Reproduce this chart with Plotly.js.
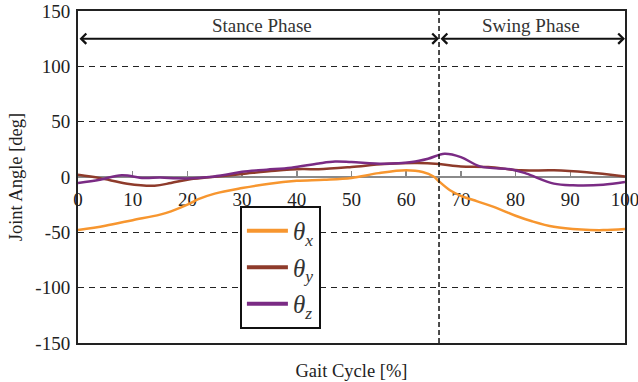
<!DOCTYPE html>
<html>
<head>
<meta charset="utf-8">
<script src="https://cdn.plot.ly/plotly-3.0.1.min.js"></script>
<style>html,body{margin:0;padding:0;background:#fff;}#chart{width:638px;height:382px;}</style>
</head>
<body>
<div id="chart"></div>
<script>
// ---- data ----
const xTheta = [0, 5, 10, 15, 17, 20, 22, 25, 30, 35, 40, 45, 50, 55, 60, 63, 65, 66, 68, 70, 73, 76, 80, 83, 87, 92, 96, 100];
const thetaX = [-48, -44, -39, -34, -31, -25, -20, -15, -10, -6, -3.5, -2.5, -0.8, 3.5, 6, 4.5, 0.5, -4, -12, -17, -22, -27, -35, -40, -45, -47.5, -48, -47];

const xThetaY = [0, 4, 9, 14, 17, 20, 24, 30, 36, 41, 44, 50, 56, 62, 66, 70, 75, 81, 87, 93, 100];
const thetaY = [2, -1, -6, -7.8, -5.4, -2.4, -0.3, 2.7, 5.7, 7.2, 7, 9, 11.7, 12.6, 11.7, 9.6, 9, 6, 6, 4.2, 0.5];

const xThetaZ = [0, 4, 8, 12, 15, 18, 21, 24, 27, 30, 34.5, 39, 44, 47, 50, 56, 61, 64, 67, 70, 73.5, 79.5, 82, 87, 90.5, 96, 100];
const thetaZ = [-5.4, -2.4, 1.5, -0.9, -0.5, -1.2, -1.2, 0, 2.1, 4.8, 6.6, 8.4, 12.3, 14, 13.5, 12, 13.5, 16.5, 21, 18, 9.6, 6.6, 3, -6, -7.5, -7, -4.5];

const seriesNames = ['<i>θ</i><sub><i>x</i></sub>', '<i>θ</i><sub><i>y</i></sub>', '<i>θ</i><sub><i>z</i></sub>'];
const seriesColors = ['#F7962F', '#8E3B2B', '#7A2B84'];

const xTickVals = [0, 10, 20, 30, 40, 50, 60, 70, 80, 90, 100];
const yTickVals = [-150, -100, -50, 0, 50, 100, 150];
const yTickText = ['-150', '-100', '-50', '0', '50', '100', '150'];

const phaseBoundary = 66;
const phaseArrowY = 125;
const phaseLabels = ['Stance Phase', 'Swing Phase'];
const phaseLabelX = [33.6, 82.8];
const phaseLabelY = 137;

// ---- chart ----
const font = 'Liberation Serif, Times New Roman, serif';
const xs = [xTheta, xThetaY, xThetaZ];
const ys = [thetaX, thetaY, thetaZ];
const traces = ys.map((y, i) => ({
  x: xs[i], y: y, type: 'scatter', mode: 'lines',
  name: seriesNames[i], showlegend: false,
  line: {color: seriesColors[i], width: 2.5, shape: 'spline', smoothing: 1},
  xaxis: 'x2', yaxis: 'y'
}));
// legend entries (thicker sample lines, as in the reference legend)
seriesNames.forEach((n, i) => traces.push({
  x: [null], y: [null], type: 'scatter', mode: 'lines', name: n, legendgroup: 'g' + i, showlegend: true,
  line: {color: seriesColors[i], width: 4}, xaxis: 'x2', yaxis: 'y'
}));

const layout = {
  width: 638, height: 382,
  margin: {l: 78, r: 13, t: 11, b: 39},
  paper_bgcolor: '#fff', plot_bgcolor: '#fff',
  font: {family: font, size: 19, color: '#222'},
  showlegend: true,
  legend: {
    x: 0.296, y: 0.413, xanchor: 'left', yanchor: 'top',
    bgcolor: '#fff', bordercolor: '#111', borderwidth: 2,
    font: {family: font, size: 25, color: '#333'},
    tracegroupgap: 1, itemwidth: 41
  },
  xaxis: {
    range: [0, 100], showticklabels: false, ticks: '', showgrid: false, zeroline: false,
    showline: true, mirror: true, linecolor: '#222', linewidth: 2,
    title: {text: 'Gait Cycle [%]', font: {family: font, size: 18.5, color: '#222'}, standoff: 20},
    automargin: false
  },
  xaxis2: {
    overlaying: 'x', anchor: 'free', position: 0.5, side: 'bottom',
    range: [0, 100], tickvals: xTickVals, ticks: 'inside', ticklen: 5, tickcolor: '#888', tickwidth: 1.5,
    showline: true, linecolor: '#8a8a8a', linewidth: 2, showgrid: false, zeroline: false,
    ticklabeloverflow: 'allow', layer: 'below traces', ticklabelstandoff: 5,
    tickfont: {family: font, size: 19, color: '#222'}
  },
  yaxis: {
    range: [-150, 150], tickvals: yTickVals, ticktext: yTickText, ticks: '', ticklabelstandoff: 2,
    showgrid: true, gridcolor: '#222', gridwidth: 1, griddash: '6px,5px',
    zeroline: false, showline: true, mirror: true, linecolor: '#222', linewidth: 2,
    tickfont: {family: font, size: 19, color: '#222'},
    title: {text: 'Joint Angle [deg]', font: {family: font, size: 18.5, color: '#222'}, standoff: 8},
    automargin: false
  },
  shapes: [{
    type: 'line', xref: 'x', yref: 'paper', x0: phaseBoundary, x1: phaseBoundary, y0: 0, y1: 1,
    line: {color: '#111', width: 1.5, dash: '5px,3px'}
  }],
  annotations: [
    {x: phaseBoundary, y: phaseArrowY, ax: 0, ay: phaseArrowY, xref: 'x', yref: 'y', axref: 'x', ayref: 'y',
     text: '', showarrow: true, arrowside: 'end+start', arrowhead: 4, startarrowhead: 4,
     arrowwidth: 2, arrowsize: 1, startarrowsize: 1, standoff: 0, startstandoff: 0, arrowcolor: '#111'},
    {x: 100, y: phaseArrowY, ax: phaseBoundary, ay: phaseArrowY, xref: 'x', yref: 'y', axref: 'x', ayref: 'y',
     text: '', showarrow: true, arrowside: 'end+start', arrowhead: 4, startarrowhead: 4,
     arrowwidth: 2, arrowsize: 1, startarrowsize: 1, standoff: 0, startstandoff: 0, arrowcolor: '#111'},
    {x: phaseLabelX[0], y: phaseLabelY, xref: 'x', yref: 'y', text: phaseLabels[0], showarrow: false,
     font: {family: font, size: 19, color: '#333'}},
    {x: phaseLabelX[1], y: phaseLabelY, xref: 'x', yref: 'y', text: phaseLabels[1], showarrow: false,
     font: {family: font, size: 19, color: '#333'}}
  ]
};

Plotly.newPlot('chart', traces, layout, {staticPlot: true, displayModeBar: false});
</script>
</body>
</html>
